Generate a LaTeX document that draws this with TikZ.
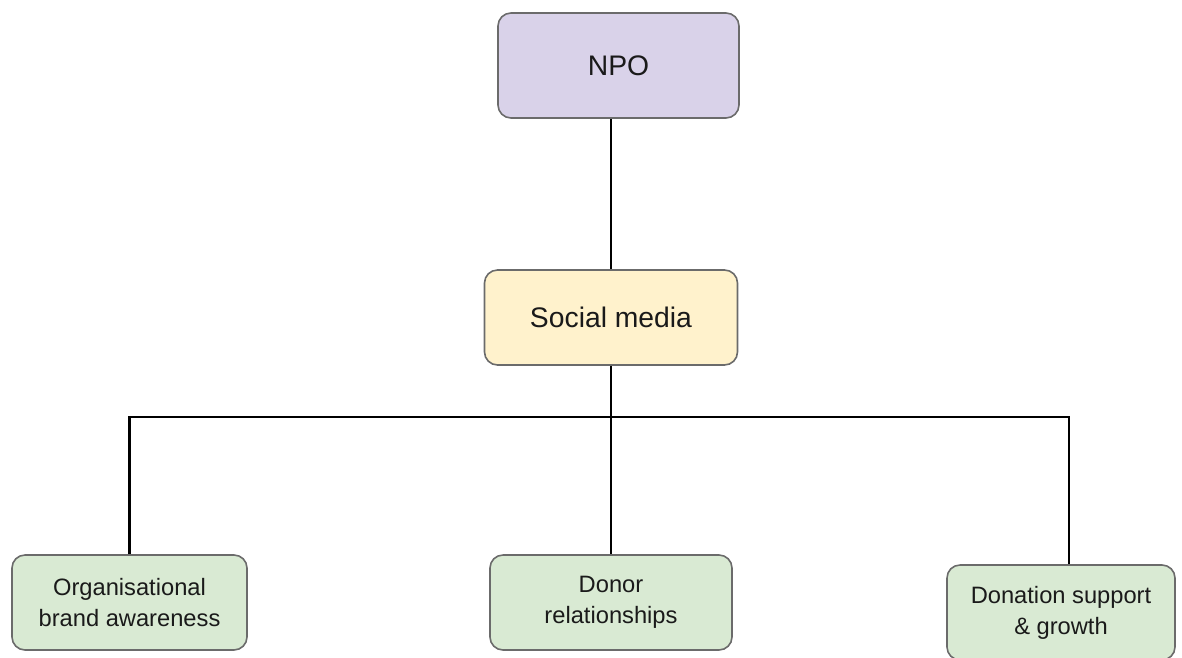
\documentclass[tikz,border=0pt]{standalone}
\usepackage{fontspec}
\setmainfont{Liberation Sans}
\definecolor{npofill}{HTML}{D9D2E9}
\definecolor{smfill}{HTML}{FFF2CC}
\definecolor{leaffill}{HTML}{D9EAD3}
\definecolor{boxedge}{HTML}{6B6B6B}
\definecolor{textcol}{HTML}{1A1A1A}
\begin{document}
\begin{tikzpicture}[x=1pt,y=-1pt,
  box/.style={draw=boxedge, line width=1.6pt, rounded corners=13pt, inner sep=0pt,
              align=center, text=textcol},
  bigtext/.style={font=\fontsize{28.3}{34}\selectfont},
  leaftext/.style={font=\fontsize{23.7}{31}\selectfont},
  link/.style={draw=black, line width=2.8pt}]
\useasboundingbox (0,0) rectangle (1182,657);
\clip (0,0) rectangle (1182,657);

% top level
\node[box, bigtext, fill=npofill, minimum width=241pt, minimum height=105pt]
  (npo) at (618.5,65.5) {NPO};
\node[box, bigtext, fill=smfill, minimum width=253pt, minimum height=95pt]
  (sm) at (611,317.5) {Social media};

% outcomes
\node[box, leaftext, fill=leaffill, minimum width=235pt, minimum height=95pt]
  (org) at (129.5,602.5) {Organisational\\brand awareness};
\node[box, leaftext, fill=leaffill, minimum width=242pt, minimum height=95pt]
  (donor) at (611,602.5) {Donor\\relationships};
\node[box, leaftext, fill=leaffill, minimum width=228pt, minimum height=95pt]
  (don) at (1061,612.5) {Donation support\\\& growth};

% connectors
\coordinate (bus) at (611,417);
\coordinate (donin) at ([xshift=8pt]don.north);
\draw[link] (sm.north) -- (sm.north |- npo.south);
\draw[link] (sm.south) -- (bus);
\draw[link] (org.north) |- (bus) -| (donin);
\draw[link] (donor.north) -- (donor.north |- bus);
\end{tikzpicture}
\end{document}
